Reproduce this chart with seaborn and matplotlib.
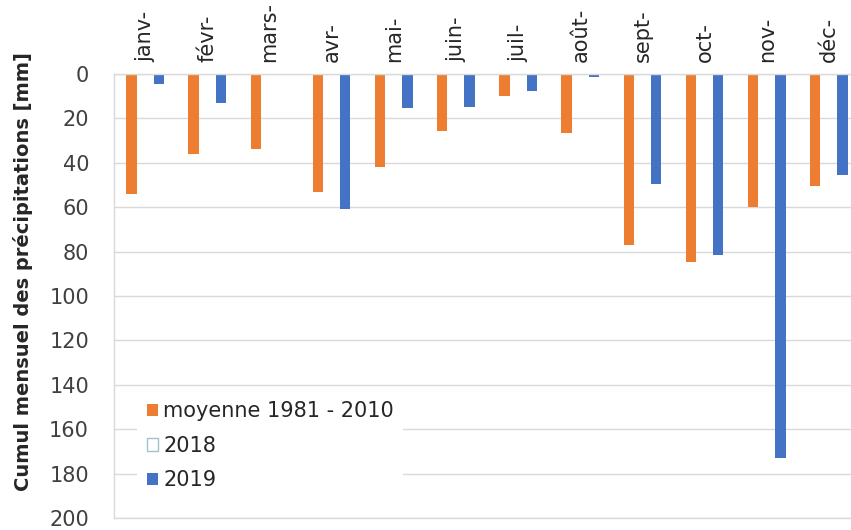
import pandas as pd
import numpy as np
import matplotlib
matplotlib.use("Agg")
import matplotlib.pyplot as plt
import seaborn as sns
from matplotlib.patches import Patch

# monthly precipitation totals [mm]
months = ["janv-", "févr-", "mars-", "avr-", "mai-", "juin-",
          "juil-", "août-", "sept-", "oct-", "nov-", "déc-"]
moyenne_1981_2010 = [54, 36, 34, 53, 42, 25.5, 10, 26.5, 77, 84.5, 60, 50.5]
val_2018 = [0, 0, 0, 0, 0, 0, 0, 0, 0, 0, 0, 0]
val_2019 = [4.5, 13, 0, 61, 15.5, 15, 7.5, 1.5, 49.5, 81.5, 173, 45.5]

series = ["moyenne 1981 - 2010", "2018", "2019"]
colors = {"moyenne 1981 - 2010": "#ED7D31", "2018": "#FFFFFF", "2019": "#4472C4"}

df = pd.DataFrame({
    "mois": months * 3,
    "serie": np.repeat(series, len(months)),
    "pluie": moyenne_1981_2010 + val_2018 + val_2019,
})

sns.set_theme(style="white")
plt.rcParams["font.family"] = ["DejaVu Sans"]

fig = plt.figure(figsize=(8.51, 5.30), dpi=100)
ax = fig.add_axes([114 / 851, 12 / 530, 746 / 851, 444 / 530])

sns.barplot(data=df, x="mois", y="pluie", hue="serie", order=months,
            hue_order=series, palette=colors, width=0.66, gap=0.25,
            linewidth=0, saturation=1, errorbar=None, legend=False, ax=ax)

ax.set_xlim(-0.5, 11.5)
ax.set_ylim(200, 0)
ax.set_yticks(range(0, 201, 20))
ax.grid(axis="y", color="#d9d9d9", linewidth=1)
ax.set_axisbelow(True)
for sp in ax.spines.values():
    sp.set_color("#d9d9d9")
    sp.set_linewidth(1)

ax.xaxis.tick_top()
ax.set_xticks(range(len(months)))
ax.set_xticklabels(months, rotation=90, fontsize=15, color="#262626")
ax.tick_params(axis="x", length=0, pad=9)
ax.tick_params(axis="y", length=0, pad=18, labelsize=15, labelcolor="#404040")
ax.set_xlabel("")
ax.set_ylabel("Cumul mensuel des précipitations [mm]", fontsize=14,
              fontweight="bold", color="#262626")
ax.yaxis.set_label_coords(-0.108, 0.556)

handles = [Patch(facecolor="#ED7D31", edgecolor="none"),
           Patch(facecolor="white", edgecolor="#9fc3c9", linewidth=1),
           Patch(facecolor="#4472C4", edgecolor="none")]
leg = ax.legend(handles, series, loc="upper left", bbox_to_anchor=(0.031, 0.284),
                borderaxespad=0, fontsize=15, frameon=True, facecolor="white",
                edgecolor="none", framealpha=1, fancybox=False,
                handlelength=0.55, handleheight=0.55, handletextpad=0.25,
                labelspacing=0.7, borderpad=0.45)
for t in leg.get_texts():
    t.set_color("#262626")

fig.savefig("out.png", dpi=100)
